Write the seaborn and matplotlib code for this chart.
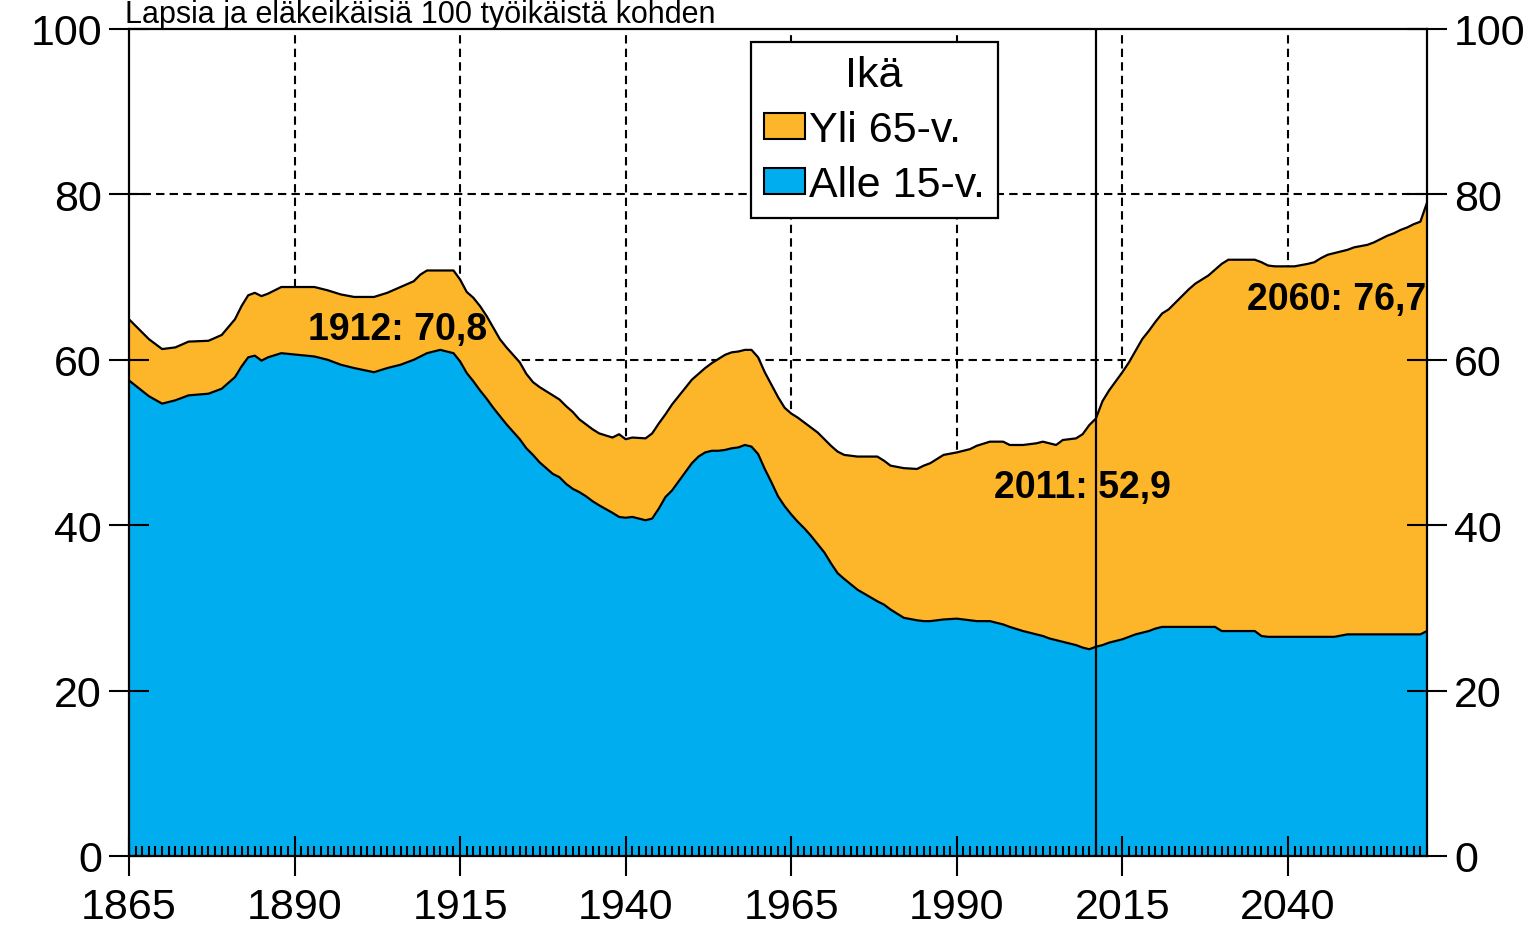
import matplotlib
matplotlib.use("Agg")
import matplotlib.pyplot as plt
from matplotlib.ticker import MultipleLocator
from matplotlib.patches import Patch
import seaborn as sns

# Lapsia ja eläkeikäisiä 100 työikäistä kohden
years = [1865, 1868, 1870, 1872, 1874, 1877, 1879, 1881, 1882, 1883,
         1884, 1885, 1886, 1888, 1893, 1895, 1897, 1899, 1902, 1904,
         1906, 1908, 1909, 1910, 1912, 1914, 1915, 1916, 1917, 1918,
         1919, 1920, 1921, 1922, 1923, 1924, 1925, 1926, 1927, 1929,
         1930, 1931, 1932, 1933, 1934, 1935, 1936, 1938, 1939, 1940,
         1941, 1943, 1944, 1945, 1946, 1947, 1948, 1949, 1950, 1951,
         1952, 1953, 1954, 1955, 1956, 1957, 1958, 1959, 1960, 1961,
         1962, 1963, 1964, 1965, 1966, 1967, 1968, 1969, 1970, 1971,
         1972, 1973, 1975, 1978, 1979, 1980, 1982, 1984, 1985, 1986,
         1987, 1988, 1990, 1992, 1993, 1995, 1997, 1998, 2000, 2002,
         2003, 2004, 2005, 2006, 2008, 2009, 2010, 2011, 2012, 2013,
         2014, 2015, 2016, 2017, 2018, 2019, 2020, 2021, 2022, 2023,
         2024, 2025, 2026, 2027, 2028, 2029, 2030, 2031, 2035, 2036,
         2037, 2038, 2041, 2043, 2044, 2045, 2046, 2047, 2049, 2050,
         2052, 2053, 2054, 2055, 2056, 2057, 2058, 2059, 2060, 2061]

# total dependency ratio (under 15 + over 65)
total = [64.9, 62.5, 61.3, 61.5, 62.2, 62.3, 63.0, 64.9, 66.5, 67.8,
         68.1, 67.7, 68.0, 68.8, 68.8, 68.4, 67.9, 67.6, 67.6, 68.1,
         68.8, 69.5, 70.3, 70.8, 70.8, 70.8, 69.7, 68.2, 67.5, 66.5,
         65.3, 63.9, 62.5, 61.5, 60.6, 59.7, 58.3, 57.3, 56.7, 55.7,
         55.2, 54.4, 53.7, 52.8, 52.2, 51.6, 51.1, 50.6, 51.0, 50.4,
         50.6, 50.5, 51.1, 52.3, 53.4, 54.6, 55.6, 56.6, 57.6, 58.3,
         59.0, 59.6, 60.1, 60.6, 60.9, 61.0, 61.2, 61.2, 60.3, 58.5,
         57.0, 55.5, 54.2, 53.5, 53.0, 52.4, 51.8, 51.2, 50.4, 49.6,
         48.9, 48.5, 48.3, 48.3, 47.8, 47.2, 46.9, 46.8, 47.2, 47.5,
         48.0, 48.5, 48.8, 49.2, 49.6, 50.1, 50.1, 49.7, 49.7, 49.9,
         50.1, 49.9, 49.7, 50.3, 50.5, 51.0, 52.1, 52.9, 55.0, 56.3,
         57.4, 58.5, 59.7, 61.1, 62.5, 63.5, 64.6, 65.6, 66.1, 66.9,
         67.7, 68.5, 69.2, 69.7, 70.2, 70.9, 71.6, 72.1, 72.1, 71.8,
         71.4, 71.3, 71.3, 71.6, 71.8, 72.3, 72.7, 72.9, 73.3, 73.6,
         73.9, 74.2, 74.6, 75.0, 75.3, 75.7, 76.0, 76.4, 76.7, 79.0]

under_15 = [57.5, 55.6, 54.7, 55.1, 55.7, 55.9, 56.5, 57.9, 59.2, 60.3,
            60.5, 59.9, 60.3, 60.8, 60.4, 60.0, 59.4, 59.0, 58.5, 59.0,
            59.4, 60.0, 60.4, 60.8, 61.2, 60.8, 59.8, 58.4, 57.4, 56.3,
            55.3, 54.2, 53.2, 52.2, 51.3, 50.4, 49.3, 48.5, 47.6, 46.2,
            45.8, 45.0, 44.4, 44.0, 43.5, 42.9, 42.4, 41.5, 41.0, 40.9,
            41.0, 40.6, 40.8, 42.0, 43.4, 44.2, 45.3, 46.4, 47.5, 48.3,
            48.8, 49.0, 49.0, 49.1, 49.3, 49.4, 49.7, 49.5, 48.6, 46.8,
            45.2, 43.5, 42.3, 41.3, 40.4, 39.6, 38.7, 37.7, 36.7, 35.4,
            34.2, 33.5, 32.2, 30.8, 30.4, 29.8, 28.8, 28.5, 28.4, 28.4,
            28.5, 28.6, 28.7, 28.5, 28.4, 28.4, 28.0, 27.7, 27.2, 26.8,
            26.6, 26.3, 26.1, 25.9, 25.5, 25.2, 25.0, 25.3, 25.5, 25.8,
            26.0, 26.2, 26.5, 26.8, 27.0, 27.2, 27.5, 27.7, 27.7, 27.7,
            27.7, 27.7, 27.7, 27.7, 27.7, 27.7, 27.2, 27.2, 27.2, 26.6,
            26.5, 26.5, 26.5, 26.5, 26.5, 26.5, 26.5, 26.5, 26.8, 26.8,
            26.8, 26.8, 26.8, 26.8, 26.8, 26.8, 26.8, 26.8, 26.8, 27.2]

x_ticks = [1865, 1890, 1915, 1940, 1965, 1990, 2015, 2040]
y_ticks = [0, 20, 40, 60, 80, 100]
labels = ["Yli 65-v.", "Alle 15-v."]
notes = [(1905.5, 62.5, "1912: 70,8"), (2008.9, 43.4, "2011: 52,9"), (2047.3, 66.1, "2060: 76,7")]

ORANGE = "#fdb529"
BLUE = "#00adee"

sns.set_style("white")
plt.rcParams["font.family"] = ["Liberation Sans", "DejaVu Sans"]
plt.rcParams["text.color"] = "black"
plt.rcParams["axes.labelcolor"] = "black"
plt.rcParams["axes.axisbelow"] = False
plt.rcParams["xtick.bottom"] = True
plt.rcParams["ytick.left"] = True
plt.rcParams["ytick.right"] = True

fig = plt.figure(figsize=(15.37, 9.37), dpi=100)
ax = fig.add_axes([129 / 1537, 1 - 857 / 937, (1427 - 129) / 1537, (857 - 30) / 937])
ax.set_axisbelow(False)

# dashed grid behind the areas, ticks stay on top
dash = (0, (4, 2.5))
for x in x_ticks[1:]:
    ax.axvline(x, color="black", lw=1.5, ls=dash, zorder=0.5)
for y in y_ticks[1:-1]:
    ax.axhline(y, color="black", lw=1.5, ls=dash, zorder=0.5)

ax.fill_between(years, 0, under_15, color=BLUE, lw=0, zorder=1)
ax.fill_between(years, under_15, total, color=ORANGE, lw=0, zorder=1)
sns.lineplot(x=years, y=under_15, color="black", lw=1.6, ax=ax, zorder=2)
sns.lineplot(x=years, y=total, color="black", lw=1.6, ax=ax, zorder=2)
ax.axvline(2011, color="black", lw=1.6, zorder=3)

ax.set_xlim(1865, 2061)
ax.set_ylim(0, 100)
ax.set_xticks(x_ticks)
ax.set_yticks(y_ticks)
ax.xaxis.set_minor_locator(MultipleLocator(1))
ax.grid(False)

for s in ax.spines.values():
    s.set_color("black")
    s.set_linewidth(1.6)
    s.set_zorder(4)

ax.tick_params(axis="both", which="major", direction="inout", length=29, width=1.5,
               color="black", labelsize=31, labelcolor="black")
ax.tick_params(axis="y", left=True, right=True, labelright=True, pad=5)
ax.tick_params(axis="x", which="major", bottom=True, top=False, pad=8)
ax.tick_params(axis="x", which="minor", bottom=True, top=False, direction="in",
               length=7, width=1.5, color="black")

for x, y, t in notes:
    ax.text(x, y, t, ha="center", va="baseline", fontsize=27, fontweight="bold",
            color="black", zorder=5)

handles = [Patch(facecolor=ORANGE, edgecolor="black", lw=1.5),
           Patch(facecolor=BLUE, edgecolor="black", lw=1.5)]
leg = ax.legend(handles, labels, title="Ikä", loc="upper left", bbox_to_anchor=(0.479, 0.984),
                borderaxespad=0, fontsize=31, title_fontsize=31, frameon=True, fancybox=False,
                edgecolor="black", framealpha=1, handlelength=0.95, handleheight=0.55,
                handletextpad=0.1, labelspacing=0.35, borderpad=0.3, labelcolor="black")
leg.get_frame().set_linewidth(1.6)
leg.get_title().set_color("black")
leg.set_zorder(6)

fig.text(125 / 1537, 1 - 23 / 937, "Lapsia ja eläkeikäisiä 100 työikäistä kohden",
         ha="left", va="baseline", fontsize=22, color="black")

fig.savefig("out.png", dpi=100)
